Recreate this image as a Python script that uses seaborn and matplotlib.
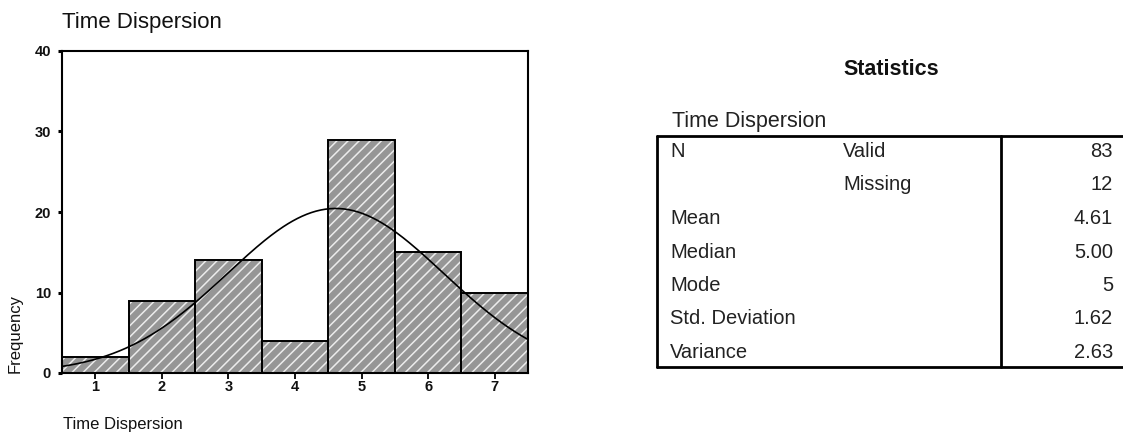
import numpy as np
import pandas as pd
import matplotlib
matplotlib.use("Agg")
import matplotlib.pyplot as plt
from matplotlib import font_manager
from matplotlib.lines import Line2D
import seaborn as sns

# --- data -------------------------------------------------------------
time_dispersion = [1, 2, 3, 4, 5, 6, 7]
frequencies = [2, 9, 14, 4, 29, 15, 10]
y_ticks = [0, 10, 20, 30, 40]

stat_labels = ["N", "", "Mean", "Median", "Mode", "Std. Deviation", "Variance"]
stat_sublabels = ["Valid", "Missing", "", "", "", "", ""]
stat_values = ["83", "12", "4.61", "5.00", "5", "1.62", "2.63"]

n_valid = 83
mean_value = 4.61
std_value = 1.62

# --- style ------------------------------------------------------------
sns.set_style("white")
installed = {f.name for f in font_manager.fontManager.ttflist}
main_font = "Liberation Sans" if "Liberation Sans" in installed else "DejaVu Sans"
narrow_font = "Liberation Sans Narrow" if "Liberation Sans Narrow" in installed else main_font
plt.rcParams["font.family"] = [main_font, "DejaVu Sans"]
plt.rcParams["hatch.linewidth"] = 1.1

W, H = 1123, 434


def fx(x):
    return x / W


def fy(y):
    return 1 - y / H


fig = plt.figure(figsize=(W / 100, H / 100), dpi=100)
fig.patch.set_facecolor("white")

# --- histogram --------------------------------------------------------
ax = fig.add_axes([fx(62), fy(373), (528 - 62) / W, (373 - 51) / H])
df = pd.DataFrame({"Time Dispersion": time_dispersion, "Frequency": frequencies})

# hatched grey fill
sns.histplot(data=df, x="Time Dispersion", weights="Frequency", discrete=True,
             color="#969696", alpha=1.0, edgecolor="#ececec", linewidth=0,
             hatch="///", ax=ax)
# black bar outlines
sns.histplot(data=df, x="Time Dispersion", weights="Frequency", discrete=True,
             fill=False, color="black", linewidth=1.4, ax=ax)

# fitted normal curve
xs = np.linspace(0.5, 7.5, 300)
ys = n_valid * np.exp(-0.5 * ((xs - mean_value) / std_value) ** 2) / (std_value * np.sqrt(2 * np.pi))
sns.lineplot(x=xs, y=ys, color="black", linewidth=1.2, ax=ax)

ax.set_xlim(0.5, 7.5)
ax.set_ylim(0, 40)
ax.set_xticks(time_dispersion)
ax.set_xticklabels([str(v) for v in time_dispersion])
ax.set_yticks(y_ticks)
ax.set_yticklabels([str(v) for v in y_ticks])
ax.set_xlabel("")
ax.set_ylabel("")
for lab in ax.get_xticklabels() + ax.get_yticklabels():
    lab.set_fontfamily([narrow_font, "DejaVu Sans"])
    lab.set_fontweight("bold")
    lab.set_fontsize(10.5)
    lab.set_color("#111111")
ax.tick_params(axis="x", direction="out", length=4, width=1.3, pad=1, color="black")
ax.tick_params(axis="y", direction="out", length=3, width=2.2, pad=5, color="black")
ax.tick_params(left=True, bottom=True)
for sp in ax.spines.values():
    sp.set_visible(True)
    sp.set_color("black")
    sp.set_linewidth(1.5)

fig.text(fx(62), fy(28), "Time Dispersion", fontsize=16, va="baseline", ha="left",
         color="#111111")
fig.text(fx(63), fy(425), "Time Dispersion", fontsize=12, va="center", ha="left",
         color="#111111", family=[narrow_font, "DejaVu Sans"])
fig.text(fx(15), fy(373), "Frequency", fontsize=12, rotation=90, va="bottom",
         ha="center", color="#111111")

# --- statistics table -------------------------------------------------
fig.text(fx(891), fy(75), "Statistics", fontsize=15.5, fontweight="bold",
         ha="center", va="baseline", color="#111111")
fig.text(fx(672), fy(127), "Time Dispersion", fontsize=15.5, ha="left",
         va="baseline", color="#222222")

top, bottom, left, divider = 136, 367, 657, 1001
for (x0, y0, x1, y1) in [(left, top, W, top), (left, bottom, W, bottom),
                         (left, top, left, bottom), (divider, top, divider, bottom)]:
    fig.add_artist(Line2D([fx(x0), fx(x1)], [fy(y0), fy(y1)], color="black",
                          linewidth=2.0, transform=fig.transFigure))

row_step = (358 - 157) / 6
for i, (lab, sub, val) in enumerate(zip(stat_labels, stat_sublabels, stat_values)):
    base = 157 + i * row_step
    if lab:
        fig.text(fx(670), fy(base), lab, fontsize=14.5, ha="left", va="baseline",
                 color="#222222")
    if sub:
        fig.text(fx(843), fy(base), sub, fontsize=14.5, ha="left", va="baseline",
                 color="#222222")
    fig.text(fx(1113), fy(base), val, fontsize=14.5, ha="right", va="baseline",
             color="#222222")

fig.savefig("out.png", dpi=100, facecolor="white")
